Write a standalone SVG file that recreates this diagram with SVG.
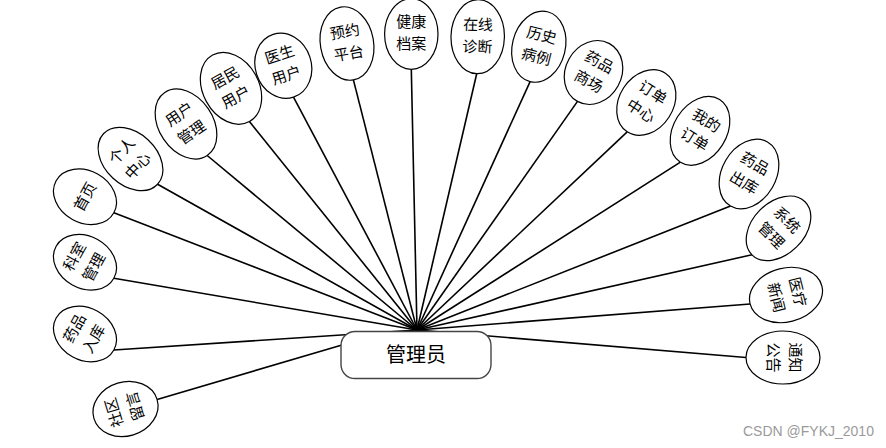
<svg xmlns="http://www.w3.org/2000/svg" width="886" height="448" viewBox="0 0 886 448">
<style>
.bg{fill:#ffffff}
.ell{fill:#ffffff;stroke:#000000;stroke-width:1.2}
.lbl{font-family:"Noto Sans CJK SC","Liberation Sans",sans-serif;font-size:15px;fill:#000000;text-anchor:middle}
.conn line{stroke:#000000;stroke-width:1.6}
.box{fill:#ffffff;stroke:#444444;stroke-width:1.4}
.main{font-family:"Noto Sans CJK SC","Liberation Sans",sans-serif;font-size:20px;fill:#000000;text-anchor:middle}
.wm{font-family:"Liberation Sans","Noto Sans",sans-serif;font-size:14px;fill:#9a9a9a}
</style>
<rect class="bg" x="0" y="0" width="886" height="448"/>
<g id="connectors" class="conn">
<line x1="342" y1="345" x2="157.1" y2="399.4"/>
<line x1="417" y1="330" x2="113.9" y2="350"/>
<line x1="417" y1="330" x2="113.9" y2="278.3"/>
<line x1="417" y1="330" x2="113.9" y2="212.7"/>
<line x1="417" y1="330" x2="157.6" y2="184.2"/>
<line x1="417" y1="330" x2="207.2" y2="155.5"/>
<line x1="417" y1="330" x2="249.4" y2="121.5"/>
<line x1="417" y1="330" x2="293.5" y2="97.2"/>
<line x1="417" y1="330" x2="353.4" y2="79.9"/>
<line x1="417" y1="330" x2="411.3" y2="69.3"/>
<line x1="417" y1="330" x2="476.7" y2="73.7"/>
<line x1="417" y1="330" x2="530.1" y2="81.6"/>
<line x1="417" y1="330" x2="577.5" y2="101.4"/>
<line x1="417" y1="330" x2="627.2" y2="131.9"/>
<line x1="417" y1="330" x2="680.4" y2="162.2"/>
<line x1="417" y1="330" x2="730.5" y2="206"/>
<line x1="417" y1="330" x2="752" y2="254.8"/>
<line x1="417" y1="330" x2="750.1" y2="304"/>
<line x1="417" y1="330" x2="746" y2="357.5"/>
</g>
<g id="n-sqly" transform="translate(125.5,409) rotate(-107)"><ellipse class="ell" rx="27" ry="33"/><text class="lbl" y="-6.6">社区</text><text class="lbl" y="15.4">留言</text></g>
<g id="n-ypru" transform="translate(85,334) rotate(-61)"><ellipse class="ell" rx="26" ry="33"/><text class="lbl" y="-6.6">药品</text><text class="lbl" y="15.4">入库</text></g>
<g id="n-ksgl" transform="translate(85,262.3) rotate(-61)"><ellipse class="ell" rx="26" ry="33"/><text class="lbl" y="-6.6">科室</text><text class="lbl" y="15.4">管理</text></g>
<g id="n-sy" transform="translate(85,196.7) rotate(-61)"><ellipse class="ell" rx="26" ry="33"/><text class="lbl" y="5.4">首页</text></g>
<g id="n-grzx" transform="translate(130.5,159) rotate(-47)"><ellipse class="ell" rx="26" ry="37"/><text class="lbl" y="-6.6">个人</text><text class="lbl" y="15.4">中心</text></g>
<g id="n-yhgl" transform="translate(186,124) rotate(-34)"><ellipse class="ell" rx="27" ry="38"/><text class="lbl" y="-6.6">用户</text><text class="lbl" y="15.4">管理</text></g>
<g id="n-jmyh" transform="translate(231,88.3) rotate(-29)"><ellipse class="ell" rx="28" ry="38"/><text class="lbl" y="-6.6">居民</text><text class="lbl" y="15.4">用户</text></g>
<g id="n-ysyh" transform="translate(283.3,65.8) rotate(-18)"><ellipse class="ell" rx="28" ry="33"/><text class="lbl" y="-6.6">医生</text><text class="lbl" y="15.4">用户</text></g>
<g id="n-yypt" transform="translate(347,43.5) rotate(-10)"><ellipse class="ell" rx="26.6" ry="37"/><text class="lbl" y="-6.6">预约</text><text class="lbl" y="15.4">平台</text></g>
<g id="n-jkda" transform="translate(411.3,34) rotate(0)"><ellipse class="ell" rx="26.7" ry="35.3"/><text class="lbl" y="-6.6">健康</text><text class="lbl" y="15.4">档案</text></g>
<g id="n-zxzd" transform="translate(477.7,36.7) rotate(1.5)"><ellipse class="ell" rx="26.7" ry="37"/><text class="lbl" y="-6.6">在线</text><text class="lbl" y="15.4">诊断</text></g>
<g id="n-lsbl" transform="translate(538.8,46.7) rotate(14)"><ellipse class="ell" rx="26.5" ry="36"/><text class="lbl" y="-6.6">历史</text><text class="lbl" y="15.4">病例</text></g>
<g id="n-ypsc" transform="translate(593.5,72.5) rotate(29)"><ellipse class="ell" rx="28" ry="33"/><text class="lbl" y="-6.6">药品</text><text class="lbl" y="15.4">商场</text></g>
<g id="n-ddzx" transform="translate(646.3,102.5) rotate(33)"><ellipse class="ell" rx="27" ry="35"/><text class="lbl" y="-6.6">订单</text><text class="lbl" y="15.4">中心</text></g>
<g id="n-wddd" transform="translate(700,130.8) rotate(32)"><ellipse class="ell" rx="26.5" ry="37"/><text class="lbl" y="-6.6">我的</text><text class="lbl" y="15.4">订单</text></g>
<g id="n-ypck" transform="translate(749,174) rotate(30)"><ellipse class="ell" rx="27" ry="37"/><text class="lbl" y="-6.6">药品</text><text class="lbl" y="15.4">出库</text></g>
<g id="n-xtgl" transform="translate(778.5,228.3) rotate(45)"><ellipse class="ell" rx="26" ry="37.5"/><text class="lbl" y="-6.6">系统</text><text class="lbl" y="15.4">管理</text></g>
<g id="n-ylxw" transform="translate(786,295) rotate(76)"><ellipse class="ell" rx="27" ry="37"/><text class="lbl" y="-6.6">医疗</text><text class="lbl" y="15.4">新闻</text></g>
<g id="n-tzgg" transform="translate(783,357.5) rotate(90)"><ellipse class="ell" rx="26.5" ry="37"/><text class="lbl" y="-6.6">通知</text><text class="lbl" y="15.4">公告</text></g>
<g id="n-admin"><rect class="box" x="341" y="331.5" width="150" height="47" rx="14" ry="14"/><text class="main" x="416" y="362">管理员</text></g>
<text class="wm" x="743" y="436">CSDN @FYKJ_2010</text>
</svg>
